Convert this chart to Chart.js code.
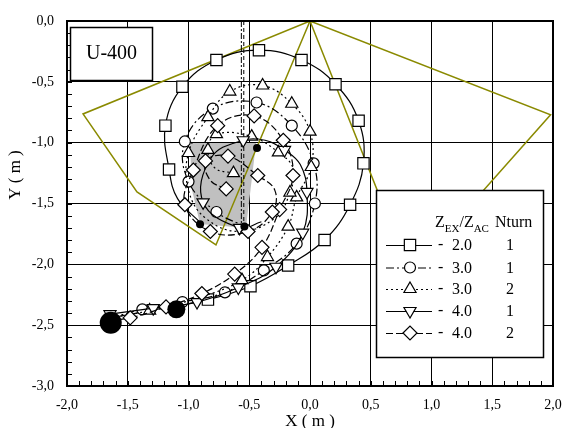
<!DOCTYPE html>
<html><head><meta charset="utf-8">
<script src="https://cdn.jsdelivr.net/npm/chart.js@4.4.1/dist/chart.umd.min.js"></script>
<style>html,body{margin:0;padding:0;background:#fff}</style>
</head><body>
<canvas id="c" width="564" height="428"></canvas>
<script>
// ---- tick labels ----
const xTickValues = [-2, -1.5, -1, -0.5, 0, 0.5, 1, 1.5, 2];
const xTickLabels = ['-2,0', '-1,5', '-1,0', '-0,5', '0,0', '0,5', '1,0', '1,5', '2,0'];
const yTickValues = [-3, -2.5, -2, -1.5, -1, -0.5, 0];
const yTickLabels = ['-3,0', '-2,5', '-2,0', '-1,5', '-1,0', '-0,5', '0,0'];

// ---- legend table ----
const legendRatio = ['2.0', '3.0', '3.0', '4.0', '4.0'];
const legendTurns = ['1', '1', '2', '1', '2'];
const chartTag = 'U-400';

// ---- trajectories (X, Y in m); M = 1 where a marker is plotted ----
const sqX = [-1.64, -1.32, -0.84, -0.49, -0.18, 0.12, 0.33, 0.44, 0.40, 0.21, -0.07, -0.42, -0.77, -1.05, -1.19, -1.16, -1.09, -0.90];
const sqY = [-2.44, -2.38, -2.29, -2.18, -2.01, -1.80, -1.51, -1.17, -0.82, -0.52, -0.32, -0.24, -0.32, -0.54, -0.86, -1.22, -1.46, -1.66];
const sqM = [0, 0, 1, 1, 1, 1, 1, 1, 1, 1, 1, 1, 1, 1, 1, 1, 0, 0];

const ciX = [-1.64, -1.38, -1.05, -0.70, -0.38, -0.11, 0.04, 0.03, -0.15, -0.44, -0.80, -1.03, -1.00, -0.77, -0.53];
const ciY = [-2.44, -2.37, -2.31, -2.23, -2.05, -1.83, -1.50, -1.17, -0.86, -0.67, -0.72, -0.99, -1.32, -1.57, -1.69];
const ciM = [0, 1, 1, 1, 1, 1, 1, 1, 1, 1, 1, 1, 1, 1, 0];

const trX = [-1.64, -1.32, -0.905, -0.56, -0.35, -0.18, -0.11, 0.01, 0.00, -0.15, -0.39, -0.66, -0.84, -1.00, -1.00, -0.86, -0.58, -0.29, -0.165, -0.14, -0.26, -0.48, -0.77, -0.84, -0.78, -0.63];
const trY = [-2.44, -2.38, -2.27, -2.13, -1.94, -1.69, -1.45, -1.20, -0.91, -0.68, -0.53, -0.58, -0.79, -1.085, -1.39, -1.62, -1.73, -1.62, -1.41, -1.21, -1.08, -0.95, -0.93, -1.06, -1.21, -1.25];
const trM = [0, 1, 0, 1, 1, 1, 1, 1, 1, 1, 1, 1, 1, 1, 0, 0, 0, 0, 1, 0, 1, 1, 1, 1, 0, 1];

const dtX = [-1.646, -1.29, -0.93, -0.59, -0.28, -0.06, -0.025, -0.08, -0.21, -0.37, -0.55, -0.81, -0.88, -0.58, -0.40];
const dtY = [-2.41, -2.36, -2.31, -2.19, -2.02, -1.74, -1.405, -1.18, -1.06, -0.98, -0.98, -1.12, -1.49, -1.70, -1.65];
const dtM = [1, 1, 1, 1, 1, 1, 1, 0, 1, 0, 1, 0, 1, 1, 0];

const diX = [-1.64, -1.48, -1.185, -0.89, -0.62, -0.395, -0.25, -0.14, -0.22, -0.46, -0.76, -0.96, -1.03, -0.82, -0.51, -0.31, -0.29, -0.43, -0.675, -0.86, -0.82, -0.69];
const diY = [-2.46, -2.44, -2.35, -2.24, -2.08, -1.86, -1.55, -1.27, -0.98, -0.78, -0.86, -1.225, -1.51, -1.73, -1.73, -1.57, -1.39, -1.27, -1.11, -1.15, -1.31, -1.38];
const diM = [0, 1, 1, 1, 1, 1, 1, 1, 1, 1, 1, 1, 1, 1, 1, 1, 0, 1, 1, 1, 0, 1];

// filled start / end points
const dotX = [-1.64, -1.10, -0.436, -0.905, -0.54];
const dotY = [-2.48, -2.37, -1.044, -1.67, -1.69];

// grey zone
const grayX = [-0.988, -0.444, -0.527, -0.905, -0.971, -0.988];
const grayY = [-1.003, -1.003, -1.701, -1.668, -1.389, -1.003];

// olive outlines
const olLX = [0, -1.868, -1.424, -0.774, -0.436, 0];
const olLY = [0, -0.764, -1.405, -1.841, -1.036, 0];
const olRX = [0, 1.98, 0.905, 0.70, 0];
const olRY = [0, -0.77, -1.98, -1.76, 0];

// vertical reference lines
const v1X = [-0.565, -0.565], v1Y = [0, -1.70];
const v2X = [-0.545, -0.545], v2Y = [0, -1.72];

const pts = (xs, ys) => xs.map((x, i) => ({x: x, y: ys[i]}));
const FONT = '"Liberation Serif", "Times New Roman", serif';

const series = [
  {x: sqX, y: sqY, m: sqM, style: 'rect', r: 8, rot: 0, dash: []},
  {x: ciX, y: ciY, m: ciM, style: 'circle', r: 5.5, rot: 0, dash: [8, 3, 2, 3]},
  {x: trX, y: trY, m: trM, style: 'triangle', r: 7, rot: 0, dash: [2, 3]},
  {x: dtX, y: dtY, m: dtM, style: 'triangle', r: 7, rot: 180, dash: []},
  {x: diX, y: diY, m: diM, style: 'rectRot', r: 7, rot: 0, dash: [7, 3]}
];

const datasets = [];
datasets.push({data: pts(grayX, grayY), fill: 'shape', backgroundColor: '#c0c0c0', borderColor: 'rgba(0,0,0,0)', borderWidth: 0, pointRadius: 0, tension: 0, order: 30});
datasets.push({data: pts(olLX, olLY), fill: false, borderColor: '#8a8a00', borderWidth: 1.5, pointRadius: 0, tension: 0, order: 29});
datasets.push({data: pts(olRX, olRY), fill: false, borderColor: '#8a8a00', borderWidth: 1.5, pointRadius: 0, tension: 0, order: 28});
datasets.push({data: pts(v1X, v1Y), fill: false, borderColor: '#000', borderWidth: 1, borderDash: [6, 2, 2, 2], pointRadius: 0, tension: 0, order: 27});
datasets.push({data: pts(v2X, v2Y), fill: false, borderColor: '#000', borderWidth: 1, borderDash: [4, 3], pointRadius: 0, tension: 0, order: 26});
series.forEach((s, k) => {
  datasets.push({
    data: pts(s.x, s.y), fill: false, borderColor: '#000', borderWidth: 1.2, borderDash: s.dash, tension: 0.4,
    pointStyle: s.style, pointRotation: s.rot,
    pointRadius: (c) => s.m[c.dataIndex] ? s.r : 0,
    pointHoverRadius: (c) => s.m[c.dataIndex] ? s.r : 0,
    pointBackgroundColor: '#fff', pointBorderColor: '#000', pointBorderWidth: 1.2,
    order: 10 - k
  });
});
datasets.push({data: pts(dotX, dotY), showLine: false, fill: false, borderColor: '#000', pointRadius: [11, 9, 4, 4, 4], pointHoverRadius: [11, 9, 4, 4, 4], pointBackgroundColor: '#000', pointBorderColor: '#000', pointBorderWidth: 0, order: 0});

function labelFor(vals, labels, v) {
  const i = vals.findIndex(t => Math.abs(t - v) < 1e-6);
  return i >= 0 ? labels[i] : '';
}

function drawMarker(ctx, style, r, rot, x, y) {
  ctx.save();
  ctx.setLineDash([]);
  ctx.fillStyle = '#fff'; ctx.strokeStyle = '#000'; ctx.lineWidth = 1.2;
  Chart.helpers.drawPoint(ctx, {pointStyle: style, radius: r, rotation: rot, borderWidth: 1.2}, x, y);
  ctx.restore();
}

const bgPlugin = {
  id: 'bg',
  beforeDraw(chart) {
    const ctx = chart.ctx;
    ctx.save(); ctx.fillStyle = '#fff'; ctx.fillRect(0, 0, chart.width, chart.height); ctx.restore();
  }
};

const framePlugin = {
  id: 'frame',
  afterDatasetsDraw(chart) {
    const ctx = chart.ctx, a = chart.chartArea, xs = chart.scales.x, ys = chart.scales.y;
    ctx.save();
    ctx.strokeStyle = '#000'; ctx.lineWidth = 1;
    ctx.beginPath();
    for (let i = -20; i <= 20; i++) {
      const px = Math.round(xs.getPixelForValue(i / 10)) + 0.5;
      ctx.moveTo(px, a.bottom); ctx.lineTo(px, a.bottom - 5);
    }
    for (let i = -30; i <= 0; i++) {
      const py = Math.round(ys.getPixelForValue(i / 10)) + 0.5;
      ctx.moveTo(a.left, py); ctx.lineTo(a.left + 5, py);
    }
    ctx.stroke();
    ctx.lineWidth = 2;
    ctx.strokeRect(a.left, a.top, a.right - a.left, a.bottom - a.top);
    ctx.restore();
  }
};

const overlayPlugin = {
  id: 'overlay',
  afterDraw(chart) {
    const ctx = chart.ctx;
    ctx.save();
    // tag box
    ctx.fillStyle = '#fff'; ctx.fillRect(70, 27, 82, 53);
    ctx.strokeStyle = '#000'; ctx.lineWidth = 1.5; ctx.strokeRect(70.5, 27.5, 82, 53);
    ctx.fillStyle = '#000'; ctx.font = '20px ' + FONT; ctx.textAlign = 'center'; ctx.textBaseline = 'middle';
    ctx.fillText(chartTag, 111.5, 54);
    // y title
    ctx.save();
    ctx.translate(16, 175); ctx.rotate(-Math.PI / 2);
    ctx.font = '17px ' + FONT; ctx.textAlign = 'center'; ctx.textBaseline = 'middle';
    ctx.fillText('Y ( m )', 0, 0);
    ctx.restore();
    // legend box
    ctx.fillStyle = '#fff'; ctx.fillRect(376, 190, 168, 168);
    ctx.strokeStyle = '#000'; ctx.lineWidth = 1.5; ctx.strokeRect(376.5, 190.5, 167, 167);
    ctx.fillStyle = '#000'; ctx.textAlign = 'left'; ctx.textBaseline = 'alphabetic';
    let x = 435; const by = 227;
    const big = '16px ' + FONT, small = '11px ' + FONT;
    ctx.font = big; ctx.fillText('Z', x, by); x += ctx.measureText('Z').width;
    ctx.font = small; ctx.fillText('EX', x, by + 5); x += ctx.measureText('EX').width;
    ctx.font = big; ctx.fillText('/Z', x, by); x += ctx.measureText('/Z').width;
    ctx.font = small; ctx.fillText('AC', x, by + 5);
    ctx.font = big; ctx.fillText('Nturn', 495, by);
    const rowY = [245, 267.5, 289, 311, 333];
    series.forEach((s, k) => {
      const y = rowY[k];
      ctx.save();
      ctx.strokeStyle = '#000'; ctx.lineWidth = 1.2; ctx.setLineDash(s.dash);
      ctx.beginPath(); ctx.moveTo(386, y + 0.5); ctx.lineTo(432, y + 0.5); ctx.stroke();
      ctx.restore();
      drawMarker(ctx, s.style, s.r, s.rot, 410, y);
      ctx.fillStyle = '#000'; ctx.font = big; ctx.textBaseline = 'middle';
      ctx.textAlign = 'left'; ctx.fillText('-', 438, y);
      ctx.fillText(legendRatio[k], 452, y + 1);
      ctx.textAlign = 'center'; ctx.fillText(legendTurns[k], 510, y + 1);
    });
    ctx.restore();
  }
};

const chart = new Chart(document.getElementById('c'), {
  type: 'line',
  data: {datasets: datasets},
  options: {
    responsive: false, animation: false, devicePixelRatio: 1,
    layout: {padding: {left: 0, right: 11, top: 21, bottom: 0}},
    plugins: {legend: {display: false}, tooltip: {enabled: false}},
    scales: {
      x: {
        type: 'linear', min: -2, max: 2,
        ticks: {stepSize: 0.5, padding: 11, color: '#000', font: {family: FONT, size: 14}, maxRotation: 0, autoSkip: false,
          callback: (v) => labelFor(xTickValues, xTickLabels, v)},
        grid: {color: '#000', lineWidth: 1, drawTicks: false},
        border: {display: false},
        title: {display: true, text: 'X ( m )', color: '#000', font: {family: FONT, size: 17, lineHeight: 0.8}, padding: 0},
        afterFit(s) { s.height = 42; s.paddingLeft = 0; s.paddingRight = 0; }
      },
      y: {
        type: 'linear', min: -3, max: 0,
        ticks: {stepSize: 0.5, padding: 13, color: '#000', font: {family: FONT, size: 14}, autoSkip: false,
          callback: (v) => labelFor(yTickValues, yTickLabels, v)},
        grid: {color: '#000', lineWidth: 1, drawTicks: false},
        border: {display: false},
        afterFit(s) { s.width = 67; s.paddingTop = 0; s.paddingBottom = 0; }
      }
    }
  },
  plugins: [bgPlugin, framePlugin, overlayPlugin]
});

// align the plot frame with the reference (left 67, right 553, top 21, bottom 386)
for (let pass = 0; pass < 3; pass++) {
  const a = chart.chartArea;
  const dr = a.right - 553, dl = 67 - a.left, dt = 21 - a.top, db = a.bottom - 386;
  if (Math.abs(dr) < 0.5 && Math.abs(dl) < 0.5 && Math.abs(dt) < 0.5 && Math.abs(db) < 0.5) break;
  const p = chart.options.layout.padding;
  p.right += dr; p.top += dt; p.bottom += db;
  chart.update();
}
</script>
</body></html>
